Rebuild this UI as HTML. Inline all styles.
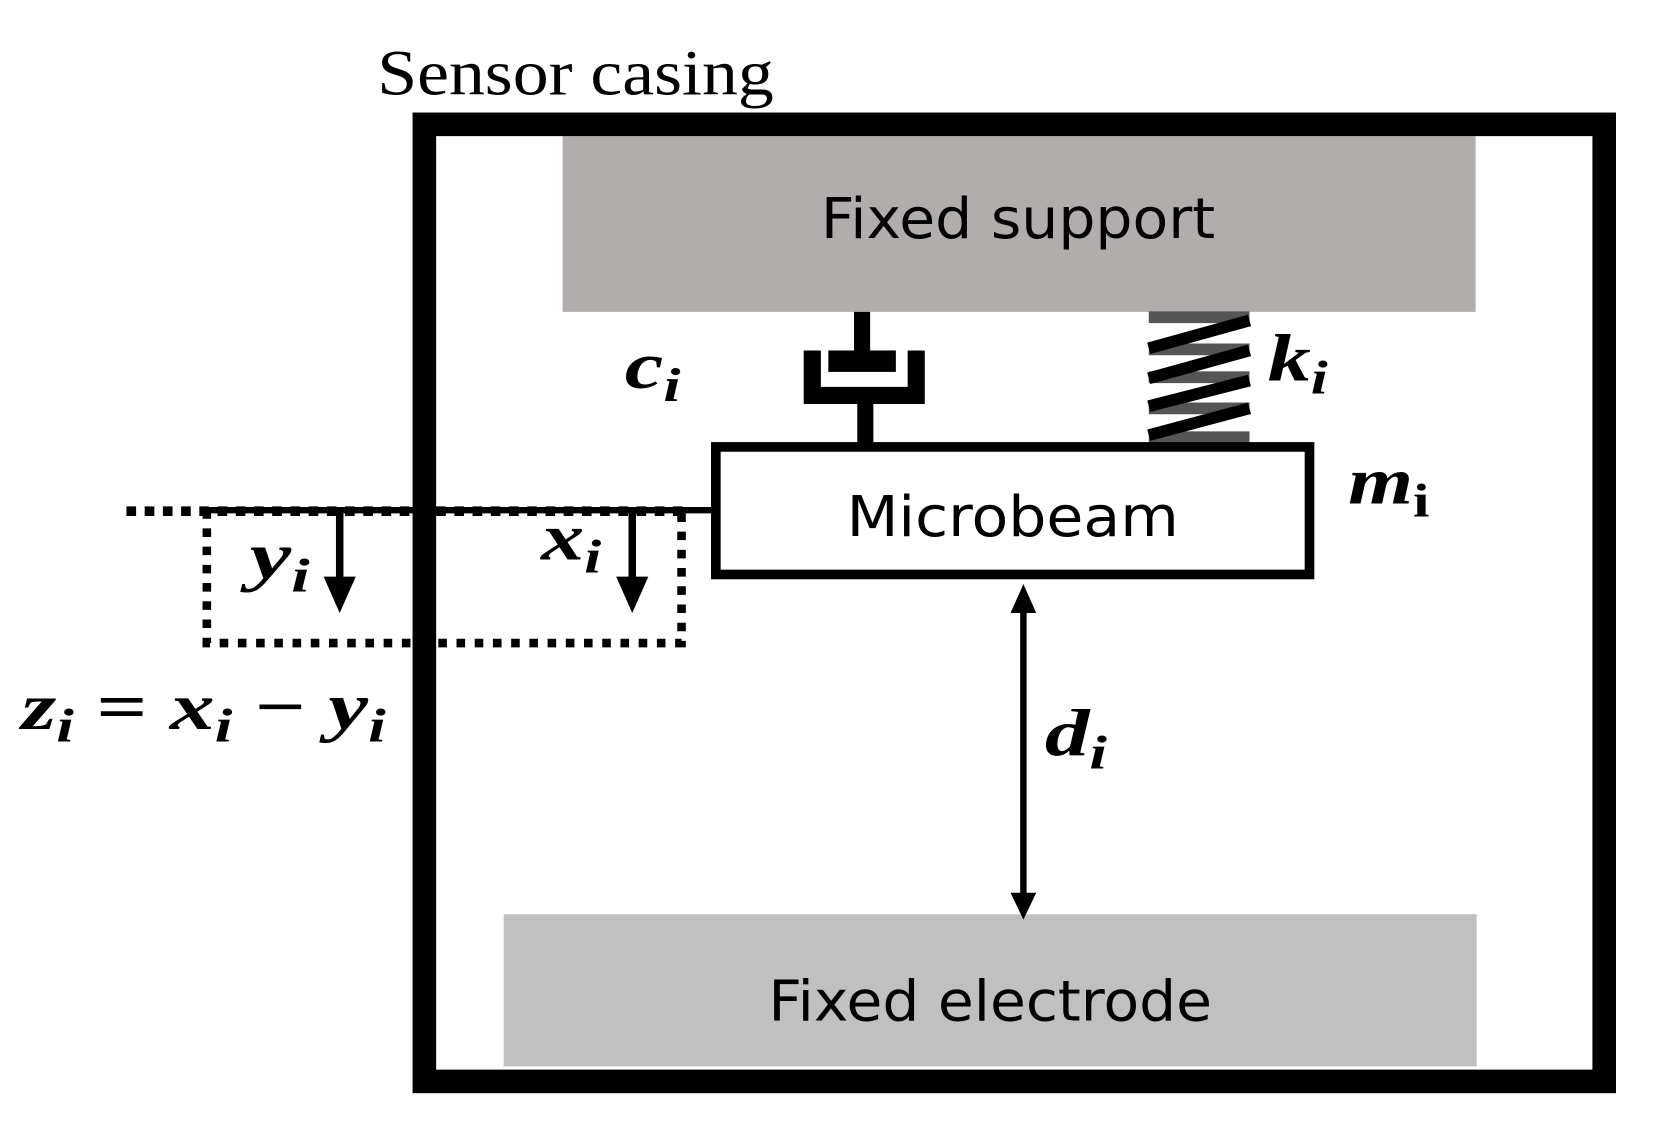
<!DOCTYPE html>
<html><head><meta charset="utf-8"><style>
html,body{margin:0;padding:0;background:#fff;}
svg{display:block;}
.m{font-family:"Liberation Serif",serif;font-style:italic;font-weight:bold;fill:#000;}
.s{font-family:"DejaVu Sans","Liberation Sans",sans-serif;fill:#000;}
</style></head><body>
<svg width="1676" height="1135" viewBox="0 0 1564 1059" preserveAspectRatio="none" xmlns="http://www.w3.org/2000/svg">
<rect width="1564" height="1059" fill="#fff"/>
<text x="352" y="88" font-family="Liberation Serif,serif" font-size="60" textLength="370" lengthAdjust="spacingAndGlyphs">Sensor casing</text>
<rect x="525" y="127" width="852" height="164" fill="#b1adac"/>
<text class="s" x="950" y="222" font-size="52" text-anchor="middle" textLength="368" lengthAdjust="spacingAndGlyphs">Fixed support</text>
<rect x="470" y="853" width="908" height="142" fill="#c0c0c0"/>
<text class="s" x="924" y="952" font-size="52" text-anchor="middle" textLength="414" lengthAdjust="spacingAndGlyphs">Fixed electrode</text>
<rect x="396" y="116" width="1101" height="893" fill="none" stroke="#000" stroke-width="22"/>
<!-- damper -->
<rect x="797" y="291" width="15" height="40" fill="#000"/>
<rect x="773" y="327" width="63" height="20" fill="#000"/>
<path d="M758 327 V369 H855 V327" fill="none" stroke="#000" stroke-width="16"/>
<rect x="800" y="369" width="15" height="46" fill="#000"/>
<!-- spring -->
<g stroke-width="11" fill="none">
<line x1="1072" y1="296" x2="1166" y2="296" stroke="#555"/>
<line x1="1072" y1="326" x2="1166" y2="326" stroke="#555"/>
<line x1="1072" y1="352" x2="1166" y2="352" stroke="#555"/>
<line x1="1072" y1="381" x2="1166" y2="381" stroke="#555"/>
<line x1="1072" y1="408" x2="1166" y2="408" stroke="#555"/>
<line x1="1072" y1="325" x2="1166" y2="299" stroke="#000"/>
<line x1="1072" y1="353" x2="1166" y2="327" stroke="#000"/>
<line x1="1072" y1="379" x2="1166" y2="355" stroke="#000"/>
<line x1="1072" y1="406" x2="1166" y2="381" stroke="#000"/>
</g>
<!-- microbeam -->
<rect x="668" y="417" width="554" height="119" fill="#fff" stroke="#000" stroke-width="9"/>
<text class="s" x="945" y="500" font-size="52" text-anchor="middle" textLength="310" lengthAdjust="spacingAndGlyphs">Microbeam</text>
<!-- displacement lines -->
<line x1="190" y1="476" x2="664" y2="476" stroke="#000" stroke-width="6"/>
<line x1="118" y1="477" x2="640" y2="477" stroke="#000" stroke-width="9" stroke-dasharray="9 8"/>
<path d="M193 476 V600 H636 V476" fill="none" stroke="#000" stroke-width="8" stroke-dasharray="8 9"/>
<line x1="317" y1="476" x2="317" y2="540" stroke="#000" stroke-width="7"/>
<polygon points="302,538 332,538 317,572" fill="#000"/>
<line x1="590" y1="476" x2="590" y2="540" stroke="#000" stroke-width="7"/>
<polygon points="575,538 605,538 590,572" fill="#000"/>
<!-- gap arrow -->
<line x1="955" y1="570" x2="955" y2="835" stroke="#000" stroke-width="6"/>
<polygon points="943,572 967,572 955,545" fill="#000"/>
<polygon points="943,833 967,833 955,858" fill="#000"/>
<!-- labels -->
<text class="m" x="583" y="362" font-size="62" textLength="52" lengthAdjust="spacingAndGlyphs">c<tspan font-size="44" dy="12">i</tspan></text>
<text class="m" x="1183" y="355" font-size="62" textLength="56" lengthAdjust="spacingAndGlyphs">k<tspan font-size="44" dy="12">i</tspan></text>
<text class="m" x="1258" y="470" font-size="62" textLength="76" lengthAdjust="spacingAndGlyphs">m<tspan font-size="44" dy="12" font-style="normal">i</tspan></text>
<text class="m" x="975" y="705" font-size="62" textLength="58" lengthAdjust="spacingAndGlyphs">d<tspan font-size="44" dy="12">i</tspan></text>
<text class="m" x="233" y="540" font-size="62" textLength="56" lengthAdjust="spacingAndGlyphs">y<tspan font-size="44" dy="12">i</tspan></text>
<text class="m" x="505" y="522" font-size="62" textLength="56" lengthAdjust="spacingAndGlyphs">x<tspan font-size="44" dy="12">i</tspan></text>
<text class="m" x="20" y="680" font-size="62" textLength="340" lengthAdjust="spacingAndGlyphs">z<tspan font-size="44" dy="12">i</tspan><tspan dy="-12" font-style="normal"> = </tspan>x<tspan font-size="44" dy="12">i</tspan><tspan dy="-12" font-style="normal"> − </tspan>y<tspan font-size="44" dy="12">i</tspan></text>
</svg>
</body></html>
